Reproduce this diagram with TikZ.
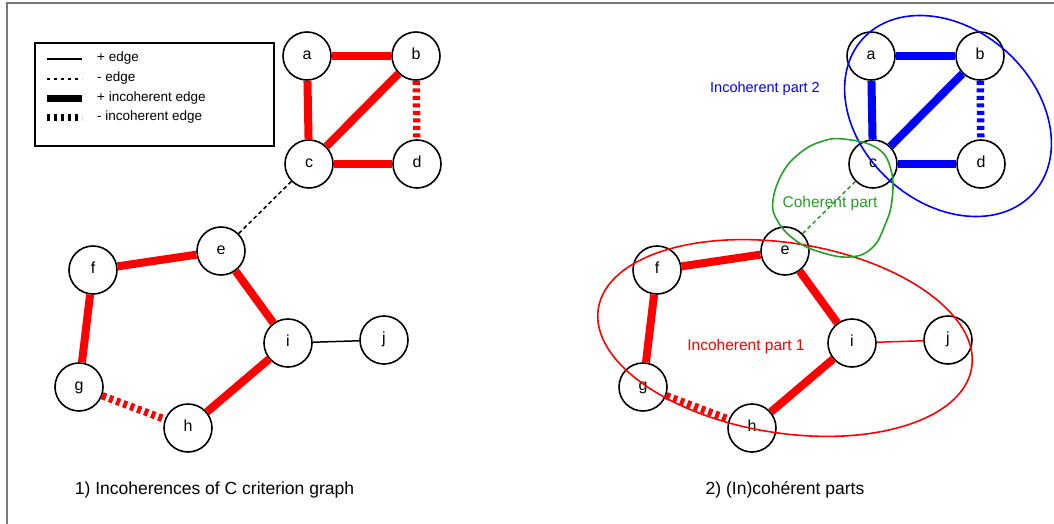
\documentclass[tikz,border=0pt]{standalone}
\usepackage{fontspec}
\setmainfont{Liberation Sans}
\definecolor{cohgreen}{RGB}{40,160,40}
\definecolor{framegray}{RGB}{120,120,120}
\tikzset{
  vtx/.style={circle, draw=black, line width=1.6pt, fill=white, minimum size=48pt, inner sep=0pt,
    text height=1.6ex, text depth=0.2ex, font=\fontsize{16}{19}\selectfont},
  incpos/.style={line width=8pt},
  incneg/.style={line width=7.5pt, dash pattern=on 4pt off 3.5pt},
  posedge/.style={line width=1.5pt},
  negedge/.style={line width=1.5pt, dash pattern=on 4pt off 3pt},
  grp/.style={line width=1.6pt},
  legtext/.style={anchor=west, font=\fontsize{13.5}{16}\selectfont, inner sep=0pt},
  caption/.style={font=\fontsize{17.5}{21}\selectfont, inner sep=0pt},
  grplabel/.style={inner sep=0pt},
}
\begin{document}
\begin{tikzpicture}[x=1pt,y=-1pt]
\useasboundingbox (0,0) rectangle (1054,524);
% frame
\coordinate (fbl) at (7,524);
\coordinate (ftl) at (7,3);
\coordinate (ftr) at (1054,3);
\draw[framegray, line width=2pt] (fbl) -- (ftl) -- (ftr);

% legend
\node[draw, line width=1.6pt, minimum width=239pt, minimum height=103pt, inner sep=0pt, anchor=north west] (legend) at (34,42) {};
\coordinate (l1s) at (47,59);  \coordinate (l1e) at (82,59);
\coordinate (l2s) at (47,79);  \coordinate (l2e) at (82,79);
\coordinate (l3s) at (47,99);  \coordinate (l3e) at (82,99);
\coordinate (l4s) at (47,118); \coordinate (l4e) at (82,118);
\draw[line width=1.5pt] (l1s) -- (l1e);
\draw[line width=1.5pt, dash pattern=on 3pt off 4pt] (l2s) -- (l2e);
\draw[line width=7pt] (l3s) -- (l3e);
\draw[line width=7pt, dash pattern=on 3pt off 4pt] (l4s) -- (l4e);
\node[legtext] (t1) at (97,58) {+ edge};
\node[legtext] (t2) at (97,78) {- edge};
\node[legtext] (t3) at (97,98) {+ incoherent edge};
\node[legtext] (t4) at (97,117) {- incoherent edge};

% left graph
\node[vtx] (a) at (307,56) {a};
\node[vtx] (b) at (416,56) {b};
\node[vtx] (c) at (309,164) {c};
\node[vtx] (d) at (417,164) {d};
\node[vtx] (e) at (221,251) {e};
\node[vtx] (f) at (93,270) {f};
\node[vtx] (g) at (79,387) {g};
\node[vtx] (h) at (188,428) {h};
\node[vtx] (i) at (288,343) {i};
\node[vtx] (j) at (384,340) {j};
\draw[red, incpos] (a) -- (b);
\draw[red, incpos] (a) -- (c);
\draw[red, incpos] (b) -- (c);
\draw[red, incpos] (c) -- (d);
\draw[red, incneg] (b) -- (d);
\draw[negedge] (c) -- (e);
\draw[red, incpos] (e) -- (f);
\draw[red, incpos] (f) -- (g);
\draw[red, incpos] (e) -- (i);
\draw[red, incpos] (i) -- (h);
\draw[red, incneg] (g) -- (h);
\draw[posedge] (i) -- (j);

% right graph
\node[vtx] (a2) at (871,56) {a};
\node[vtx] (b2) at (980,56) {b};
\node[vtx] (c2) at (873,164) {c};
\node[vtx] (d2) at (981,164) {d};
\node[vtx] (e2) at (785,251) {e};
\node[vtx] (f2) at (657,270) {f};
\node[vtx] (g2) at (643,387) {g};
\node[vtx] (h2) at (752,428) {h};
\node[vtx] (i2) at (852,343) {i};
\node[vtx] (j2) at (948,340) {j};
\draw[blue, incpos] (a2) -- (b2);
\draw[blue, incpos] (a2) -- (c2);
\draw[blue, incpos] (b2) -- (c2);
\draw[blue, incpos] (c2) -- (d2);
\draw[blue, incneg] (b2) -- (d2);
\draw[cohgreen, negedge] (c2) -- (e2);
\draw[red, incpos] (e2) -- (f2);
\draw[red, incpos] (f2) -- (g2);
\draw[red, incpos] (e2) -- (i2);
\draw[red, incpos] (i2) -- (h2);
\draw[red, incneg] (g2) -- (h2);
\draw[red, posedge] (i2) -- (j2);

% groups
\draw[blue, grp, rotate around={-42:(948,116)}] (948,116) ellipse [x radius=115pt, y radius=87pt];
\draw[red, grp, rotate around={-9:(785,338)}] (785,338) ellipse [x radius=189pt, y radius=95pt];
\draw[cohgreen, grp] plot[smooth cycle, tension=0.7] coordinates {
  (843,139) (877,148) (891,170) (892,200) (885,225) (872,248) (850,257)
  (820,252) (795,240) (777,220) (773,200) (783,172) (800,153) (820,142)};

\node[grplabel, text=blue, font=\fontsize{14.5}{17}\selectfont] (lbl2) at (765,89) {Incoherent part 2};
\node[grplabel, text=cohgreen, font=\fontsize{15.5}{18}\selectfont] (lblc) at (830,203) {Coherent part};
\node[grplabel, text=red, font=\fontsize{15.5}{18}\selectfont] (lbl1) at (746,346) {Incoherent part 1};

% captions
\node[caption] (cap1) at (214.5,490) {1) Incoherences of C criterion graph};
\node[caption] (cap2) at (785,490) {2) (In)cohérent parts};
\end{tikzpicture}
\end{document}
